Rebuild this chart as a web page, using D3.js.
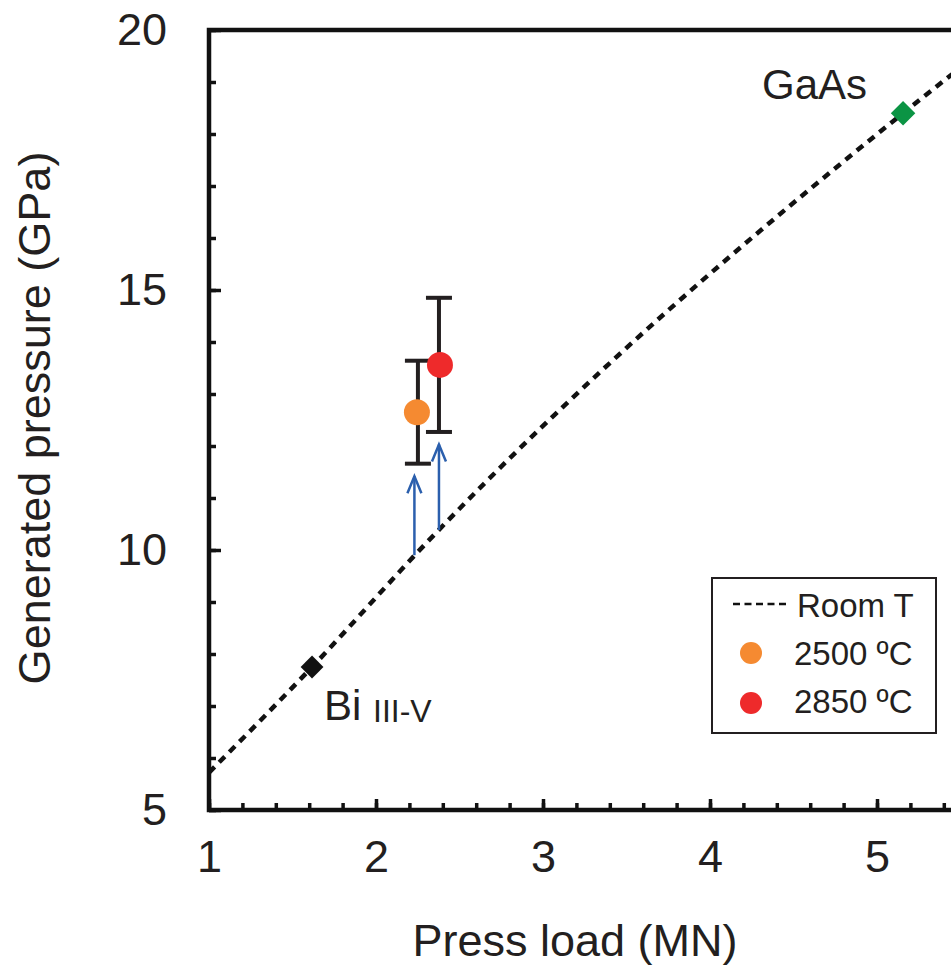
<!DOCTYPE html>
<html>
<head>
<meta charset="utf-8">
<script src="https://cdn.jsdelivr.net/npm/d3@7"></script>
<style>
  html, body { margin: 0; padding: 0; background: #fff; }
  svg { display: block; }
  text { font-family: "Liberation Sans", Arial, Helvetica, sans-serif; fill: #231f20; }
</style>
</head>
<body>
<svg id="chart" width="951" height="969"></svg>
<script>
// ---- data ----
const xTicks = [1, 2, 3, 4, 5];
const yTicks = [5, 10, 15, 20];
// Room-temperature calibration curve
const roomLoad = [1.0, 1.617, 2.3, 5.156, 5.45];
const roomPressure = [5.72, 7.75, 10.13, 18.40, 19.15];
// calibration points
const calibNames = ["Bi III-V", "GaAs"];
const calibLoad = [1.617, 5.156];
const calibPressure = [7.75, 18.40];
// high temperature points
const hotNames = ["2500 ºC", "2850 ºC"];
const hotLoad = [2.245, 2.383];
const hotPressure = [12.65, 13.56];
const hotError = [0.99, 1.29];
// arrows (from room-T curve upward)
const arrowLoad = [2.23, 2.377];
const arrowFrom = [9.90, 10.385];
const arrowTo = [11.42, 12.03];

const hotColors = ["#f58a31", "#ee2a2b"];
const calibColors = ["#111111", "#0b9444"];

// ---- scales ----
const svg = d3.select("#chart");
const x = d3.scaleLinear().domain([1, 5]).range([209, 877]);
const y = d3.scaleLinear().domain([5, 20]).range([810, 30]);
const xAxisScale = x.copy().domain([1, 5.5]).range([209, x(5.5)]);

// ---- axes ----
const xMinor = d3.range(1, 5.5, 0.2).map(v => +v.toFixed(1));
const yMinor = d3.range(5, 21, 1);

const gxMinor = svg.append("g").attr("transform", "translate(0,810)")
  .call(d3.axisBottom(xAxisScale).tickValues(xMinor).tickSize(-7).tickFormat(""));
const gx = svg.append("g").attr("transform", "translate(0,810)")
  .call(d3.axisBottom(xAxisScale).tickValues(xTicks).tickSize(-11).tickPadding(30).tickFormat(d3.format("d")));
const gyMinor = svg.append("g").attr("transform", "translate(209,0)")
  .call(d3.axisLeft(y).tickValues(yMinor).tickSize(-7).tickFormat(""));
const gy = svg.append("g").attr("transform", "translate(209,0)")
  .call(d3.axisLeft(y).tickValues(yTicks).tickSize(-12).tickPadding(42).tickFormat(d3.format("d")));

[gxMinor, gx, gyMinor, gy].forEach(g => {
  g.select(".domain").remove();
  g.selectAll(".tick line").attr("stroke", "#111").attr("stroke-width", 3.5);
  g.selectAll(".tick text").attr("font-size", 45).attr("fill", "#231f20")
    .style("font-family", "'Liberation Sans', Arial, sans-serif");
});

// frame lines (left, bottom, top)
svg.append("path")
  .attr("d", `M951,${y(20)} H${x(1)} V${y(5)} H951`)
  .attr("fill", "none").attr("stroke", "#111").attr("stroke-width", 4.5)
  .attr("stroke-linejoin", "miter");

// axis titles
svg.append("text").attr("x", 575).attr("y", 956).attr("text-anchor", "middle")
  .attr("font-size", 45).text("Press load (MN)");
svg.append("text").attr("transform", "translate(50,418) rotate(-90)")
  .attr("text-anchor", "middle").attr("font-size", 45).text("Generated pressure (GPa)");

// ---- room-T curve ----
const line = d3.line().x((d, i) => x(roomLoad[i])).y(d => y(d)).curve(d3.curveMonotoneX);
svg.append("path").datum(roomPressure)
  .attr("d", line).attr("fill", "none").attr("stroke", "#111")
  .attr("stroke-width", 4.5).attr("stroke-dasharray", "8,6.5");

// ---- calibration diamonds ----
calibLoad.forEach((v, i) => {
  svg.append("path")
    .attr("d", d3.symbol().type(d3.symbolSquare).size(i === 0 ? 260 : 300)())
    .attr("transform", `translate(${x(v)},${y(calibPressure[i])}) rotate(45)`)
    .attr("fill", calibColors[i]);
});
// labels
const bi = svg.append("text").attr("x", 324).attr("y", 720).attr("font-size", 42);
bi.append("tspan").text("Bi ");
bi.append("tspan").attr("font-size", 32).attr("dy", 2).text("III-V");
svg.append("text").attr("x", 762).attr("y", 99).attr("font-size", 42).text("GaAs");

// ---- arrows ----
arrowLoad.forEach((v, i) => {
  const ax = x(v), y0 = y(arrowFrom[i]), y1 = y(arrowTo[i]);
  svg.append("line").attr("x1", ax).attr("x2", ax).attr("y1", y0).attr("y2", y1)
    .attr("stroke", "#2b5fad").attr("stroke-width", 2.5);
  svg.append("path").attr("d", `M${ax - 7},${y1 + 17} L${ax},${y1} L${ax + 7},${y1 + 17}`)
    .attr("fill", "none").attr("stroke", "#2b5fad").attr("stroke-width", 2.5);
});

// ---- error bars + points ----
hotLoad.forEach((v, i) => {
  const cx = x(v) + (i === 0 ? 1 : -1);
  const top = y(hotPressure[i] + hotError[i]), bot = y(hotPressure[i] - hotError[i]);
  const g = svg.append("g").attr("stroke", "#231f20").attr("stroke-width", 4);
  g.append("line").attr("x1", cx).attr("x2", cx).attr("y1", top).attr("y2", bot);
  g.append("line").attr("x1", cx - 13).attr("x2", cx + 13).attr("y1", top).attr("y2", top);
  g.append("line").attr("x1", cx - 13).attr("x2", cx + 13).attr("y1", bot).attr("y2", bot);
});
hotLoad.forEach((v, i) => {
  svg.append("circle").attr("cx", x(v)).attr("cy", y(hotPressure[i])).attr("r", 13)
    .attr("fill", hotColors[i]);
});

// ---- legend ----
const lg = svg.append("g");
lg.append("rect").attr("x", 712).attr("y", 578).attr("width", 224).attr("height", 155)
  .attr("fill", "#fff").attr("stroke", "#231f20").attr("stroke-width", 2);
lg.append("line").attr("x1", 733).attr("x2", 786).attr("y1", 604).attr("y2", 604)
  .attr("stroke", "#111").attr("stroke-width", 2.5).attr("stroke-dasharray", "7,4.5");
lg.append("text").attr("x", 797).attr("y", 617).attr("font-size", 33).text("Room T");
hotNames.forEach((n, i) => {
  lg.append("circle").attr("cx", 751).attr("cy", 653 + i * 50).attr("r", 11).attr("fill", hotColors[i]);
  lg.append("text").attr("x", 794).attr("y", 665 + i * 48).attr("font-size", 33).text(n);
});
</script>
</body>
</html>
